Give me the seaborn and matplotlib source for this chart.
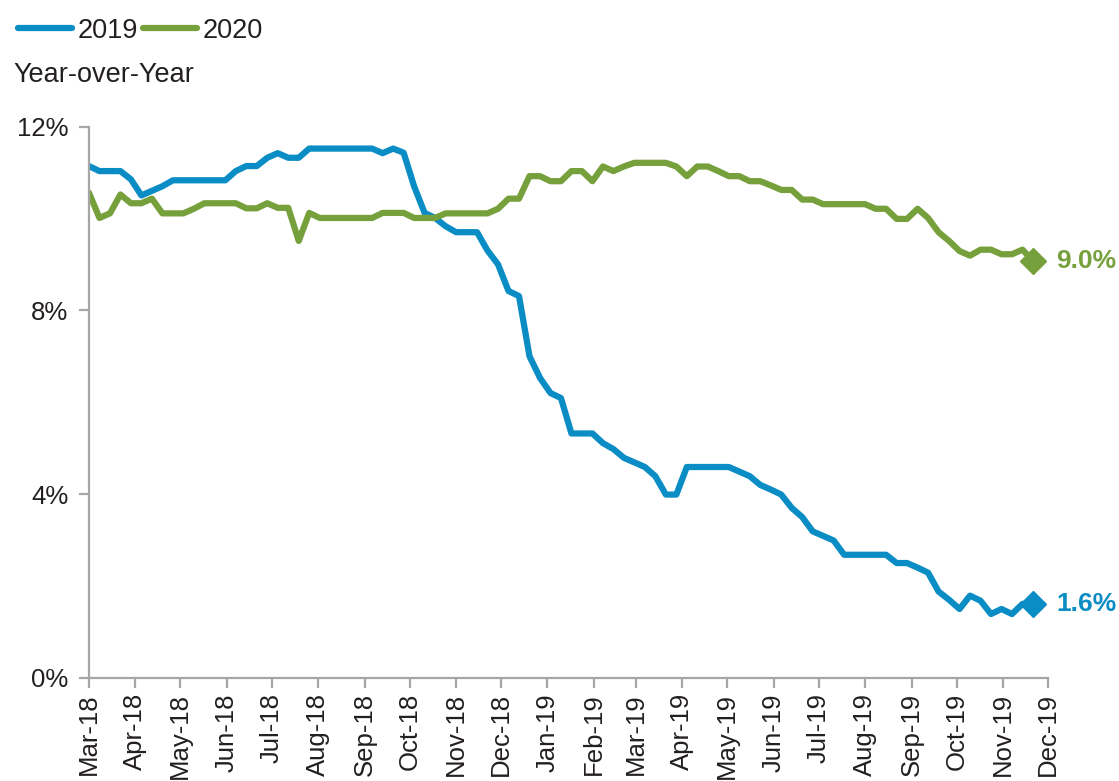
import pandas as pd
import matplotlib.pyplot as plt
import matplotlib.dates as mdates
import seaborn as sns

# weekly year-over-year growth readings (%)
start_date = "2018-03-01"
n_weeks = 91

yoy_2019 = [
    11.14, 11.03, 11.03, 11.03, 10.85, 10.50, 10.60, 10.70, 10.83, 10.83,
    10.83, 10.83, 10.83, 10.83, 11.03, 11.14, 11.14, 11.32, 11.42, 11.32,
    11.32, 11.52, 11.52, 11.52, 11.52, 11.52, 11.52, 11.52, 11.42, 11.52,
    11.43, 10.70, 10.12, 10.01, 9.83, 9.70, 9.70, 9.70, 9.30, 9.00,
    8.42, 8.31, 7.00, 6.53, 6.20, 6.09, 5.32, 5.32, 5.32, 5.11,
    4.98, 4.79, 4.69, 4.59, 4.39, 3.99, 3.99, 4.59, 4.59, 4.59,
    4.59, 4.59, 4.49, 4.39, 4.20, 4.10, 3.99, 3.70, 3.50, 3.19,
    3.09, 2.99, 2.68, 2.68, 2.68, 2.68, 2.68, 2.50, 2.50, 2.40,
    2.29, 1.88, 1.70, 1.50, 1.79, 1.68, 1.39, 1.50, 1.39, 1.61,
    1.61,
]

yoy_2020 = [
    10.56, 10.01, 10.11, 10.52, 10.33, 10.33, 10.43, 10.11, 10.11, 10.11,
    10.21, 10.33, 10.33, 10.33, 10.33, 10.22, 10.22, 10.33, 10.23, 10.23,
    9.51, 10.12, 10.01, 10.01, 10.01, 10.01, 10.01, 10.01, 10.12, 10.12,
    10.12, 10.01, 10.01, 10.01, 10.11, 10.11, 10.11, 10.11, 10.11, 10.21,
    10.43, 10.43, 10.92, 10.92, 10.81, 10.81, 11.03, 11.03, 10.81, 11.13,
    11.03, 11.13, 11.21, 11.21, 11.21, 11.21, 11.13, 10.92, 11.13, 11.13,
    11.03, 10.92, 10.92, 10.81, 10.81, 10.72, 10.62, 10.62, 10.41, 10.41,
    10.31, 10.31, 10.31, 10.31, 10.31, 10.21, 10.21, 9.99, 9.99, 10.21,
    10.01, 9.70, 9.51, 9.29, 9.19, 9.32, 9.32, 9.22, 9.22, 9.32,
    9.08,
]

series_names = ["2019", "2020"]
end_labels = ["1.6%", "9.0%"]
colors = ["#0A8CC4", "#76A03C"]
y_ticks = [0, 4, 8, 12]
y_tick_labels = ["0%", "4%", "8%", "12%"]

dates = pd.date_range(start_date, periods=n_weeks, freq="7D")
df = pd.concat([
    pd.DataFrame({"date": dates, "value": yoy_2019, "series": "2019"}),
    pd.DataFrame({"date": dates, "value": yoy_2020, "series": "2020"}),
])

sns.set_style("white")
plt.rcParams["font.family"] = ["Liberation Sans", "DejaVu Sans"]
text_color = "#231F20"

fig = plt.figure(figsize=(11.19, 7.81), dpi=100)
ax = fig.add_axes([0.0795, 0.132, 0.857, 0.706])

sns.lineplot(data=df, x="date", y="value", hue="series",
             hue_order=series_names, palette=colors, linewidth=4.5,
             ax=ax, legend=False)

# end markers and labels
for name, vals, lab, c in zip(series_names, [yoy_2019, yoy_2020], end_labels, colors):
    ax.plot(dates[-1], vals[-1], marker="D", ms=13, color=c, clip_on=False)
    ax.annotate(lab, (dates[-1], vals[-1]), xytext=(17, 0),
                textcoords="offset points", va="center", ha="left",
                fontsize=19, fontweight="bold", color=c, annotation_clip=False)

ax.set_xlim(pd.Timestamp("2018-03-01"), pd.Timestamp("2019-12-01"))
ax.set_ylim(0, 12)
ax.set_yticks(y_ticks)
ax.set_yticklabels(y_tick_labels)
ax.xaxis.set_major_locator(mdates.MonthLocator())
ax.xaxis.set_major_formatter(mdates.DateFormatter("%b-%y"))
plt.setp(ax.get_xticklabels(), rotation=90)
ax.set_xlabel("")
ax.set_ylabel("")

for s in ["top", "right"]:
    ax.spines[s].set_visible(False)
for s in ["left", "bottom"]:
    ax.spines[s].set_color("#A6A6A6")
    ax.spines[s].set_linewidth(1.6)
ax.tick_params(axis="both", which="major", length=7, width=1.6,
               color="#A6A6A6", labelsize=18.5, labelcolor=text_color,
               left=True, bottom=True)
ax.tick_params(axis="y", pad=8)
ax.tick_params(axis="x", pad=4)

handles = [plt.Line2D([], [], color=c, lw=4.5, solid_capstyle="round") for c in colors]
fig.legend(handles, series_names, loc="upper left", bbox_to_anchor=(0.0, 1.0),
           ncol=2, frameon=False, fontsize=19.5, handlelength=2.0,
           handletextpad=0.2, columnspacing=0.2, borderaxespad=0.25,
           labelcolor=text_color)

fig.text(0.012, 0.904, "Year-over-Year", fontsize=19.5, color=text_color, va="center")

fig.savefig("out.png", dpi=100)
